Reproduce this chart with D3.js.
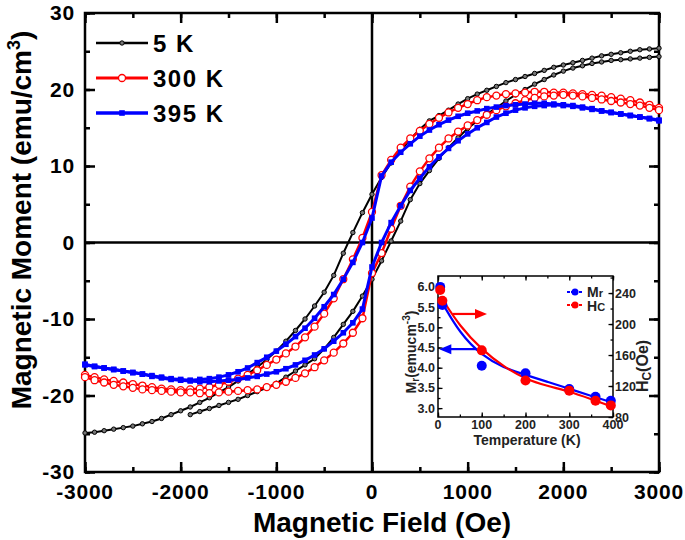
<!DOCTYPE html>
<html>
<head>
<meta charset="utf-8">
<script src="https://cdn.jsdelivr.net/npm/d3@7/dist/d3.min.js"></script>
<style>
  body { margin: 0; background: #fff; }
  text { font-family: "Liberation Sans", Arial, sans-serif; font-weight: bold; }
</style>
</head>
<body>
<div id="main-frame"></div>
<script>
// field grid (Oe), shared by every branch
var fieldOe = [-3000,-2900,-2800,-2700,-2600,-2500,-2400,-2300,-2200,-2100,
  -2000,-1900,-1800,-1700,-1600,-1500,-1400,-1300,-1200,-1100,
  -1000,-900,-800,-700,-600,-500,-400,-300,-200,-100,
  0,100,200,300,400,500,600,700,800,900,
  1000,1100,1200,1300,1400,1500,1600,1700,1800,1900,
  2000,2100,2200,2300,2400,2500,2600,2700,2800,2900,3000];

// 5 K
var m5Down = [-24.9,-24.8,-24.6,-24.4,-24.2,-24.0,-23.7,-23.4,-23.0,-22.5,
  -22.0,-21.5,-20.9,-20.3,-19.6,-18.9,-18.1,-17.2,-16.3,-15.3,
  -14.2,-12.9,-11.5,-10.0,-8.3,-6.5,-4.3,-1.4,1.3,3.9,
  6.3,8.5,10.4,12.0,13.5,14.8,15.9,16.6,17.3,18.1,
  18.8,19.4,19.9,20.4,20.9,21.3,21.7,22.1,22.5,22.9,
  23.2,23.5,23.8,24.1,24.4,24.6,24.8,25.0,25.2,25.3,25.4];
var m5Up = [null,null,null,null,null,null,null,null,null,null,
  null,-22.5,-22.1,-21.7,-21.3,-20.9,-20.5,-20.0,-19.5,-19.0,
  -18.4,-17.6,-16.8,-16.0,-15.2,-13.9,-12.4,-10.7,-9.0,-7.0,
  -4.8,-2.4,0.2,2.8,5.6,7.7,9.4,11.0,12.4,13.7,
  14.9,15.9,16.8,17.6,18.5,19.3,20.0,20.7,21.3,21.9,
  22.4,22.8,23.1,23.4,23.6,23.8,23.9,24.0,24.1,24.2,24.3];

// 300 K
var m300Down = [-17.3,-17.6,-17.9,-18.1,-18.3,-18.5,-18.7,-18.9,-19.1,-19.2,
  -19.3,-19.2,-19.1,-18.9,-18.6,-18.2,-17.8,-17.3,-16.7,-16.0,
  -15.3,-14.5,-13.6,-12.4,-11.0,-9.3,-7.3,-4.8,-2.2,0.6,
  4.0,8.8,10.8,12.4,13.6,14.6,15.5,16.3,17.0,17.6,
  18.1,18.6,19.0,19.2,19.4,19.5,19.6,19.7,19.7,19.6,
  19.6,19.5,19.4,19.3,19.2,19.0,18.8,18.6,18.3,18.0,17.6];
var m300Up = [-17.6,-18.0,-18.3,-18.6,-18.8,-19.0,-19.2,-19.3,-19.4,-19.5,
  -19.6,-19.6,-19.7,-19.7,-19.6,-19.5,-19.4,-19.3,-19.2,-18.9,
  -18.6,-18.2,-17.7,-17.1,-16.3,-15.4,-14.4,-13.2,-11.8,-9.9,
  -4.0,-1.4,1.8,4.8,7.3,9.3,11.0,12.4,13.6,14.5,
  15.3,16.0,16.7,17.3,17.8,18.2,18.6,18.9,19.1,19.2,
  19.3,19.2,19.1,18.9,18.7,18.5,18.3,18.1,17.9,17.6,17.3];

// 395 K
var m395Down = [-16.0,-16.2,-16.4,-16.6,-16.8,-17.0,-17.2,-17.4,-17.6,-17.8,
  -17.9,-18.0,-17.9,-17.8,-17.6,-17.3,-16.9,-16.4,-15.7,-15.0,
  -14.2,-13.3,-12.3,-11.2,-9.9,-8.4,-6.8,-4.8,-2.6,0.0,
  3.2,8.7,10.5,11.8,12.9,13.9,14.7,15.4,16.0,16.5,
  16.9,17.2,17.5,17.7,17.9,18.0,18.1,18.2,18.2,18.1,
  18.0,17.9,17.7,17.5,17.2,17.0,16.8,16.6,16.4,16.2,15.9];
var m395Up = [-15.9,-16.2,-16.4,-16.6,-16.8,-17.0,-17.2,-17.5,-17.7,-17.9,
  -18.0,-18.1,-18.2,-18.2,-18.1,-18.0,-17.9,-17.7,-17.5,-17.2,
  -16.9,-16.5,-16.0,-15.4,-14.7,-13.9,-12.9,-11.8,-10.5,-8.7,
  -3.2,0.0,2.6,4.8,6.8,8.4,9.9,11.2,12.3,13.3,
  14.2,15.0,15.7,16.4,16.9,17.3,17.6,17.8,17.9,18.0,
  17.9,17.8,17.6,17.4,17.2,17.0,16.8,16.6,16.4,16.2,16.0];

var legendLabels = ["5 K", "300 K", "395 K"];
var xTicks = [-3000, -2000, -1000, 0, 1000, 2000, 3000];
var yTicks = [-30, -20, -10, 0, 10, 20, 30];

// inset: remanence and coercivity vs temperature
var tempK = [5, 10, 100, 200, 300, 360, 395];
var remanence = [6.0, 5.55, 4.05, 3.86, 3.47, 3.28, 3.18];
var coercivity = [244, 230, 166, 127, 114, 101, 95];
var fitTemp = [10, 50, 100, 150, 200, 250, 300, 350, 395];
var fitRemanence = [5.6, 4.85, 4.3, 4.0, 3.82, 3.65, 3.48, 3.3, 3.15];
var fitCoercivity = [232, 197, 167, 145, 129, 120, 113, 103, 94];
var insetXTicks = [0, 100, 200, 300, 400];
var insetLeftTicks = [3.0, 3.5, 4.0, 4.5, 5.0, 5.5, 6.0];
var insetRightTicks = [80, 120, 160, 200, 240];

var width = 685, height = 540;
var svg = d3.select("#main-frame").append("svg")
  .attr("width", width)
  .attr("height", height);

var x = d3.scaleLinear().domain([-3000, 3000]).range([85, 659]);
var y = d3.scaleLinear().domain([-30, 30]).range([472, 13]);

// ticks, inward on all four sides
function tickSet(axis, values, size) {
  return axis.tickValues(values).tickSize(size).tickFormat("");
}
var minorX = d3.range(-3000, 3001, 500);
var minorY = d3.range(-30, 31, 5);

var ax = svg.append("g");
function styleTicks(g) {
  g.select(".domain").remove();
  g.selectAll("line").attr("stroke", "#000").attr("stroke-width", 2.5);
}
ax.append("g").attr("transform", "translate(0,472)").call(tickSet(d3.axisTop(x), minorX, 5)).call(styleTicks);
ax.append("g").attr("transform", "translate(0,472)").call(tickSet(d3.axisTop(x), xTicks, 10)).call(styleTicks);
ax.append("g").attr("transform", "translate(0,13)").call(tickSet(d3.axisBottom(x), minorX, 5)).call(styleTicks);
ax.append("g").attr("transform", "translate(0,13)").call(tickSet(d3.axisBottom(x), xTicks, 10)).call(styleTicks);
ax.append("g").attr("transform", "translate(85,0)").call(tickSet(d3.axisRight(y), minorY, 5)).call(styleTicks);
ax.append("g").attr("transform", "translate(85,0)").call(tickSet(d3.axisRight(y), yTicks, 10)).call(styleTicks);
ax.append("g").attr("transform", "translate(659,0)").call(tickSet(d3.axisLeft(y), minorY, 5)).call(styleTicks);
ax.append("g").attr("transform", "translate(659,0)").call(tickSet(d3.axisLeft(y), yTicks, 10)).call(styleTicks);

// zero lines
svg.append("line").attr("x1", x(-3000)).attr("x2", x(3000)).attr("y1", y(0)).attr("y2", y(0))
  .attr("stroke", "#000").attr("stroke-width", 2.5);
svg.append("line").attr("x1", x(0)).attr("x2", x(0)).attr("y1", y(-30)).attr("y2", y(30))
  .attr("stroke", "#000").attr("stroke-width", 2.5);

svg.append("rect").attr("x", 85).attr("y", 13).attr("width", 574).attr("height", 459)
  .attr("fill", "none").attr("stroke", "#000").attr("stroke-width", 2.5);

// tick labels
svg.selectAll(".xlab").data(xTicks).enter().append("text")
  .attr("x", function(d) { return x(d); })
  .attr("y", 499)
  .attr("text-anchor", "middle")
  .attr("font-size", 21)
  .attr("letter-spacing", 0.8)
  .text(function(d) { return d; });
svg.selectAll(".ylab").data(yTicks).enter().append("text")
  .attr("x", 75)
  .attr("y", function(d) { return y(d) + 7; })
  .attr("text-anchor", "end")
  .attr("font-size", 21)
  .attr("letter-spacing", 0.8)
  .text(function(d) { return d; });

svg.append("text").attr("x", 382).attr("y", 532).attr("text-anchor", "middle")
  .attr("font-size", 28).text("Magnetic Field (Oe)");
var yt = svg.append("text").attr("transform", "translate(31,220) rotate(-90)")
  .attr("text-anchor", "middle").attr("font-size", 28);
yt.append("tspan").text("Magnetic Moment (emu/cm");
yt.append("tspan").attr("font-size", 18).attr("dy", -11).text("3");
yt.append("tspan").attr("dy", 11).text(")");

// loops
var series = [
  { color: "#000", width: 2, marker: "dot", branches: [m5Down, m5Up] },
  { color: "#ff0000", width: 2.5, marker: "open", branches: [m300Down, m300Up] },
  { color: "#0000ff", width: 3, marker: "square", branches: [m395Down, m395Up] }
];

var line = d3.line()
  .defined(function(d) { return d[1] !== null; })
  .x(function(d) { return x(d[0]); })
  .y(function(d) { return y(d[1]); });

function drawMarker(g, s, px, py) {
  if (s.marker === "dot") {
    g.append("circle").attr("cx", px).attr("cy", py).attr("r", 2.2)
      .attr("fill", "#777").attr("stroke", "#000").attr("stroke-width", 1);
  } else if (s.marker === "open") {
    g.append("circle").attr("cx", px).attr("cy", py).attr("r", 3.5)
      .attr("fill", "#fff").attr("stroke", s.color).attr("stroke-width", 1.3);
  } else {
    g.append("rect").attr("x", px - 2.8).attr("y", py - 2.8).attr("width", 5.6).attr("height", 5.6)
      .attr("fill", s.color);
  }
}

series.forEach(function(s) {
  var g = svg.append("g");
  s.branches.forEach(function(b) {
    var pts = fieldOe.map(function(h, i) { return [h, b[i]]; });
    g.append("path").datum(pts).attr("d", line)
      .attr("fill", "none").attr("stroke", s.color).attr("stroke-width", s.width);
    pts.filter(function(p) { return p[1] !== null; }).forEach(function(p) {
      drawMarker(g, s, x(p[0]), y(p[1]));
    });
  });
});

// legend
series.forEach(function(s, i) {
  var ly = 43 + i * 35;
  var g = svg.append("g");
  g.append("line").attr("x1", 96).attr("x2", 148).attr("y1", ly).attr("y2", ly)
    .attr("stroke", s.color).attr("stroke-width", s.width + 0.5);
  drawMarker(g, s, 122, ly);
  g.append("text").attr("x", 153).attr("y", ly + 9).attr("font-size", 24)
    .attr("letter-spacing", 1.5).text(legendLabels[i]);
});

// inset
var ix = d3.scaleLinear().domain([0, 400]).range([438, 613]);
var iyL = d3.scaleLinear().domain([2.78, 6.27]).range([417, 276]);
var iyR = d3.scaleLinear().domain([80, 262]).range([417, 276]);
var inset = svg.append("g");

function styleInset(g) {
  g.select(".domain").remove();
  g.selectAll("line").attr("stroke", "#000").attr("stroke-width", 1.3);
}
inset.append("g").attr("transform", "translate(0,417)").call(tickSet(d3.axisTop(ix), d3.range(0, 401, 50), 2.5)).call(styleInset);
inset.append("g").attr("transform", "translate(0,417)").call(tickSet(d3.axisTop(ix), insetXTicks, 4.5)).call(styleInset);
inset.append("g").attr("transform", "translate(0,276)").call(tickSet(d3.axisBottom(ix), d3.range(0, 401, 50), 2.5)).call(styleInset);
inset.append("g").attr("transform", "translate(0,276)").call(tickSet(d3.axisBottom(ix), insetXTicks, 4.5)).call(styleInset);
inset.append("g").attr("transform", "translate(438,0)").call(tickSet(d3.axisRight(iyL), d3.range(3, 6.01, 0.25), 2.5)).call(styleInset);
inset.append("g").attr("transform", "translate(438,0)").call(tickSet(d3.axisRight(iyL), insetLeftTicks, 4.5)).call(styleInset);
inset.append("g").attr("transform", "translate(613,0)").call(tickSet(d3.axisLeft(iyR), d3.range(80, 261, 20), 2.5)).call(styleInset);
inset.append("g").attr("transform", "translate(613,0)").call(tickSet(d3.axisLeft(iyR), insetRightTicks, 4.5)).call(styleInset);
inset.append("rect").attr("x", 438).attr("y", 276).attr("width", 175).attr("height", 141)
  .attr("fill", "none").attr("stroke", "#000").attr("stroke-width", 1.5);

inset.selectAll(".ixl").data(insetXTicks).enter().append("text")
  .attr("x", function(d) { return ix(d); }).attr("y", 429)
  .attr("text-anchor", "middle").attr("font-size", 12.5).attr("fill", "#222")
  .text(function(d) { return d; });
inset.selectAll(".iyl").data(insetLeftTicks).enter().append("text")
  .attr("x", 435).attr("y", function(d) { return iyL(d) + 4.5; })
  .attr("text-anchor", "end").attr("font-size", 12.5).attr("fill", "#222")
  .text(function(d) { return d.toFixed(1); });
inset.selectAll(".iyr").data(insetRightTicks).enter().append("text")
  .attr("x", 615).attr("y", function(d) { return iyR(d) + 4.5; })
  .attr("font-size", 12.5).attr("fill", "#222")
  .text(function(d) { return d; });

inset.append("text").attr("x", 527).attr("y", 445).attr("text-anchor", "middle")
  .attr("font-size", 14).attr("fill", "#222").text("Temperature (K)");
var il = inset.append("text").attr("transform", "translate(416,352) rotate(-90)")
  .attr("text-anchor", "middle").attr("font-size", 14).attr("fill", "#222");
il.append("tspan").text("M");
il.append("tspan").attr("font-size", 10).attr("dy", 3).text("r");
il.append("tspan").attr("dy", -3).text("(emucm");
il.append("tspan").attr("font-size", 10).attr("dy", -6).text("-3");
il.append("tspan").attr("dy", 6).text(")");
var ir = inset.append("text").attr("transform", "translate(648,366) rotate(-90)")
  .attr("text-anchor", "middle").attr("font-size", 16).attr("fill", "#222");
ir.append("tspan").text("H");
ir.append("tspan").attr("font-size", 12).attr("dy", 3).text("C");
ir.append("tspan").attr("dy", -3).text("(Oe)");

var fitLine = d3.line().curve(d3.curveBasis);
inset.append("path")
  .attr("d", fitLine(fitTemp.map(function(t, i) { return [ix(t), iyL(fitRemanence[i])]; })))
  .attr("fill", "none").attr("stroke", "#0000ff").attr("stroke-width", 2.2);
inset.append("path")
  .attr("d", fitLine(fitTemp.map(function(t, i) { return [ix(t), iyR(fitCoercivity[i])]; })))
  .attr("fill", "none").attr("stroke", "#ff0000").attr("stroke-width", 2.2);

inset.selectAll(".mr").data(tempK).enter().append("circle")
  .attr("cx", function(d) { return ix(d); })
  .attr("cy", function(d, i) { return iyL(remanence[i]); })
  .attr("r", 5).attr("fill", "#0000ff");
inset.selectAll(".hc").data(tempK).enter().append("circle")
  .attr("cx", function(d) { return ix(d); })
  .attr("cy", function(d, i) { return iyR(coercivity[i]); })
  .attr("r", 5).attr("fill", "#ff0000");

// arrows
function arrow(x1, x2, yy, color) {
  var dir = x2 > x1 ? 1 : -1;
  inset.append("line").attr("x1", x1).attr("x2", x2 - dir * 8).attr("y1", yy).attr("y2", yy)
    .attr("stroke", color).attr("stroke-width", 2.2);
  inset.append("path")
    .attr("d", "M" + x2 + "," + yy + "L" + (x2 - dir * 12) + "," + (yy - 5) + "L" + (x2 - dir * 12) + "," + (yy + 5) + "Z")
    .attr("fill", color);
}
arrow(ix(34), ix(112), iyR(213), "#ff0000");
arrow(ix(89), ix(3), iyL(4.46), "#0000ff");

// inset legend
[["M", "r", "#0000ff", 292, 297], ["H", "C", "#ff0000", 305, 311]].forEach(function(e) {
  inset.append("line").attr("x1", 567).attr("x2", 583).attr("y1", e[3]).attr("y2", e[3])
    .attr("stroke", e[2]).attr("stroke-width", 2).attr("stroke-dasharray", "3,1");
  inset.append("circle").attr("cx", 575).attr("cy", e[3]).attr("r", 3.5).attr("fill", e[2]);
  var t = inset.append("text").attr("x", 587).attr("y", e[4]).attr("font-size", 14).attr("fill", "#222");
  t.append("tspan").text(e[0]);
  t.append("tspan").attr("font-size", 11).text(e[1]);
});
</script>
</body>
</html>
